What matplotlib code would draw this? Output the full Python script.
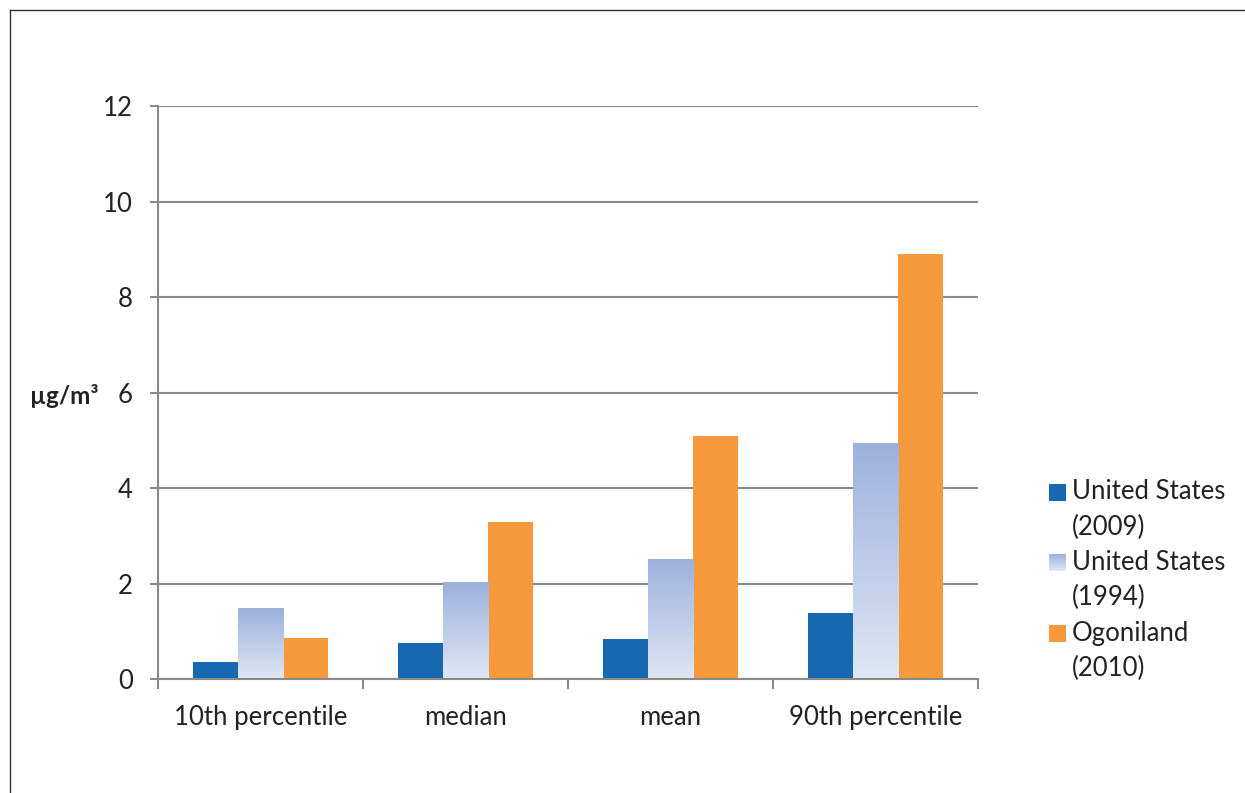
import numpy as np
import matplotlib
matplotlib.use("Agg")
import matplotlib.pyplot as plt
from matplotlib.patches import Rectangle
from matplotlib.lines import Line2D
from matplotlib.colors import LinearSegmentedColormap

plt.rcParams['font.family'] = ['Lato', 'DejaVu Sans']

categories = ['10th percentile', 'median', 'mean', '90th percentile']
series_names = [['United States', '(2009)'], ['United States', '(1994)'], ['Ogoniland', '(2010)']]
us_2009 = [0.35, 0.75, 0.84, 1.38]
us_1994 = [1.48, 2.03, 2.51, 4.94]
ogoniland_2010 = [0.86, 3.29, 5.09, 8.90]
y_ticks = [0, 2, 4, 6, 8, 10, 12]

blue = '#1669b0'
orange = '#f5993c'
grad_top = '#9bb2dd'
grad_bot = '#e0e6f4'
grey = '#8a8a8a'
txt = '#222222'
fs = 18.5

W, H = 1245, 793
fig = plt.figure(figsize=(W / 100, H / 100), dpi=100)
ax = fig.add_axes([158 / W, 1 - 679 / H, (978 - 158) / W, (679 - 106) / H])

x = np.arange(len(categories))
width = 0.221

b1 = ax.bar(x - width, us_2009, width, color=blue, zorder=3)
b2 = ax.bar(x, us_1994, width, color='none', zorder=3)
b3 = ax.bar(x + width, ogoniland_2010, width, color=orange, zorder=3)

# gradient fill for the 1994 bars
cmap = LinearSegmentedColormap.from_list('g', [grad_bot, grad_top])
grad = np.linspace(0, 1, 256).reshape(-1, 1)
for bar in b2:
    x0, w, h = bar.get_x(), bar.get_width(), bar.get_height()
    ax.imshow(grad, cmap=cmap, origin='lower', aspect='auto',
              extent=(x0, x0 + w, 0, h), zorder=3, interpolation='bilinear')

ax.set_xlim(-0.5, len(categories) - 0.5)
ax.set_ylim(0, 12)
ax.set_yticks(y_ticks)
ax.set_yticklabels([str(t) for t in y_ticks], fontsize=fs, color=txt)
ax.set_xticks(x)
ax.set_xticklabels(categories, fontsize=fs, color=txt)
ax.set_xticks(np.arange(len(categories) + 1) - 0.5, minor=True)
ax.tick_params(axis='x', which='major', length=0, pad=19)
ax.tick_params(axis='x', which='minor', length=7.5, width=1.5, color=grey)
ax.tick_params(axis='y', length=6, width=1.5, color=grey, pad=12)

ax.grid(axis='y', color=grey, linewidth=1.5, zorder=0)
ax.set_axisbelow(True)
for s in ['top', 'right']:
    ax.spines[s].set_visible(False)
for s in ['left', 'bottom']:
    ax.spines[s].set_color(grey)
    ax.spines[s].set_linewidth(1.5)
ax.spines['bottom'].set_zorder(4)

fig.text(30 / W, 1 - 396 / H, 'µg/m³', fontsize=17.5, fontweight='bold',
         ha='left', va='center', color=txt)

# legend drawn by hand: square next to the first line of each two-line label
fills = [blue, None, orange]
for i, (lines, fc) in enumerate(zip(series_names, fills)):
    yc = 492 + i * 70.5
    sq = 17
    if fc is None:
        n = 16
        for k in range(n):
            fig.add_artist(Rectangle((1049 / W, 1 - (yc + sq / 2 - k * sq / n) / H),
                                     sq / W, (sq / n + 0.4) / H, transform=fig.transFigure,
                                     facecolor=cmap(k / (n - 1)), edgecolor='none'))
    else:
        fig.add_artist(Rectangle((1049 / W, 1 - (yc + sq / 2) / H), sq / W, sq / H,
                                 transform=fig.transFigure, facecolor=fc, edgecolor='none'))
    for j, line in enumerate(lines):
        fig.text(1072 / W, 1 - (yc + j * 35) / H, line, fontsize=fs, color=txt,
                 ha='left', va='center')

# outer frame of the page
fig.add_artist(Line2D([10 / W, 10 / W], [0, 1 - 10 / H], transform=fig.transFigure,
                      color='#333333', linewidth=1))
fig.add_artist(Line2D([10 / W, 1], [1 - 10 / H, 1 - 10 / H], transform=fig.transFigure,
                      color='#333333', linewidth=1))

fig.savefig('out.png', dpi=100)
